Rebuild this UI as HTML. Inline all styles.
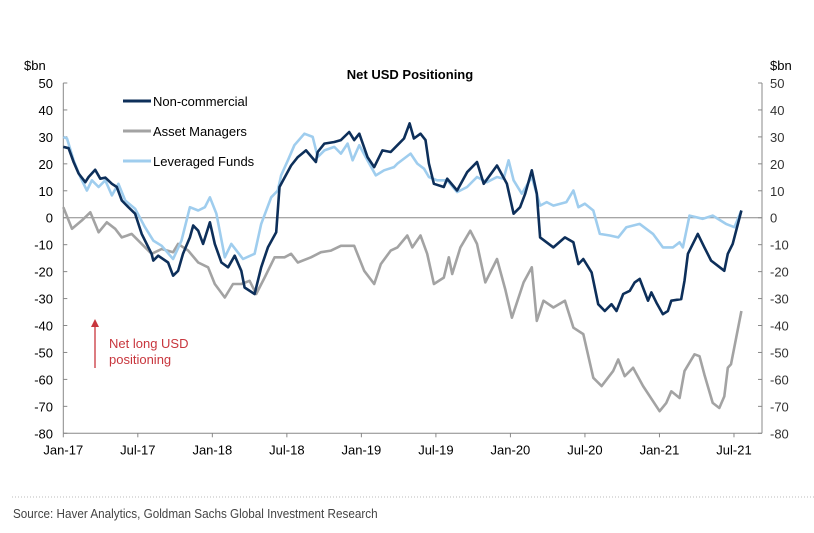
<!DOCTYPE html>
<html><head><meta charset="utf-8"><style>
body{margin:0;background:#fff;}
svg{display:block;font-family:"Liberation Sans",sans-serif;}
</style></head><body>
<svg id="chart" width="814" height="533">
<text x="410" y="79" text-anchor="middle" font-size="13" font-weight="bold">Net USD Positioning</text>
<text x="24" y="70" font-size="13">$bn</text>
<text x="770" y="70" font-size="13">$bn</text>
<g id="axes"></g>
<g id="series"></g>
<g>
<g><line x1="123" y1="101" x2="151" y2="101" stroke="#0d2f5a" stroke-width="3"/><text x="153" y="106" font-size="13">Non-commercial</text></g>
<g><line x1="123" y1="131" x2="151" y2="131" stroke="#a3a3a3" stroke-width="3"/><text x="153" y="136" font-size="13">Asset Managers</text></g>
<g><line x1="123" y1="161" x2="151" y2="161" stroke="#9fcdee" stroke-width="3"/><text x="153" y="166" font-size="13">Leveraged Funds</text></g>
</g>
<g>
<line x1="95" y1="368" x2="95" y2="326" stroke="#c8363d" stroke-width="1.3"/>
<polygon points="91,327 99,327 95,319" fill="#c8363d"/>
<text x="109" y="348" font-size="13" fill="#c8363d">Net long USD</text>
<text x="109" y="364" font-size="13" fill="#c8363d">positioning</text>
</g>
<line x1="12" y1="497" x2="814" y2="497" stroke="#bbb" stroke-dasharray="1,2"/>
<text x="13" y="518" font-size="13" fill="#444" transform="translate(13 0) scale(0.9 1) translate(-13 0)">Source: Haver Analytics, Goldman Sachs Global Investment Research</text>
</svg>
<script>
// months since Jan-2017
const yTicks=[50,40,30,20,10,0,-10,-20,-30,-40,-50,-60,-70,-80];
const xTickLabels=["Jan-17","Jul-17","Jan-18","Jul-18","Jan-19","Jul-19","Jan-20","Jul-20","Jan-21","Jul-21"];
const xTickMonths=[0,6,12,18,24,30,36,42,48,54];
const ncMonths=[0,0.43,0.83,1.23,1.77,2.04,2.57,2.98,3.38,3.91,4.31,4.71,5.24,5.78,6.31,7.11,7.25,7.64,8.44,8.84,9.24,9.64,10.19,10.46,10.86,11.26,11.8,12.2,12.73,13.27,13.8,14.33,14.6,15.4,15.93,16.47,17.14,17.41,18.34,18.88,19.54,20.34,20.48,21.02,21.82,22.35,23.02,23.42,23.83,24.49,25.03,25.69,26.36,26.9,27.43,27.88,28.23,28.76,29.16,29.44,29.84,30.64,30.91,31.71,32.51,33.31,33.85,34.92,35.72,36.26,36.78,37.19,37.72,38.12,38.39,39.46,40.39,41.07,41.47,41.87,42.54,43.07,43.6,44.14,44.54,45.08,45.61,46.01,46.41,47.08,47.35,47.75,48.28,48.68,48.95,49.75,50.02,50.29,51.09,51.62,52.16,52.69,53.22,53.5,53.9,54.6];
const ncValues=[26.3,25.8,20.7,16.4,13.2,15.1,17.8,14.5,14.9,12.6,11.4,6.4,3.9,1.5,-6,-13.4,-15.9,-14.1,-16.6,-21.5,-19.7,-13.4,-7.3,-2.9,-4.8,-9.7,-1.7,-9.7,-16.6,-18.4,-14.1,-19.7,-25.9,-28.3,-18.4,-11,-5.4,11.4,19.4,22.5,25,20.7,24.4,27.5,28.1,28.8,31.8,28.8,31.2,22.5,18.8,25,24.4,26.9,29.4,35,29.4,31.2,28.8,20.1,12.6,11.4,14.5,10.1,16.9,20.7,12.6,19.4,12.6,1.5,3.9,8.9,17.6,8.9,-7.3,-11,-7.3,-9.1,-17.2,-15.3,-20.3,-32.1,-34.6,-32.1,-34.6,-28.3,-27.1,-24,-22.7,-30.8,-27.7,-31.5,-35.8,-34.6,-30.8,-30.2,-23.4,-13.4,-6,-11,-15.9,-17.8,-19.7,-13.4,-9.7,2.7];
const amMonths=[0,0.7,1.5,2.17,2.84,3.5,4.18,4.71,5.51,6.31,7.11,7.92,8.84,9.24,10.06,10.86,11.66,12.2,13,13.66,14.33,15,15.53,16.21,17.01,17.81,18.34,18.88,19.94,20.75,21.55,22.35,23.42,24.23,25.03,25.56,26.36,26.9,27.7,28.1,28.76,29.3,29.84,30.64,31.04,31.31,31.97,32.77,33.31,33.98,34.92,35.58,36.12,37.06,37.72,38.12,38.66,39.46,40.39,41.07,41.87,42.67,43.34,44.27,44.68,45.2,45.88,46.68,48.01,48.55,48.95,49.62,50.02,50.82,51.22,51.62,52.29,52.82,53.22,53.5,53.76,54.6];
const amValues=[3.9,-4.1,-1,2,-5.4,-1.7,-4.1,-7.3,-6,-9.7,-13.4,-11.6,-12.8,-9.7,-12.2,-16.6,-18.4,-24.6,-29.6,-24.6,-24.6,-23.4,-28.3,-22.2,-14.7,-14.7,-13.4,-16.6,-14.7,-12.8,-12.2,-10.4,-10.4,-19.7,-24.6,-17.2,-12.2,-11,-6.6,-11,-6.6,-13.4,-24.6,-22.2,-14.7,-20.9,-11,-4.8,-9.7,-24,-15.3,-26.5,-37.1,-24,-18.4,-38.3,-30.8,-33.3,-30.8,-40.8,-43.2,-59.4,-62.5,-56.9,-52.6,-58.8,-55.7,-62.5,-71.8,-68.7,-64.4,-66.9,-56.9,-50.7,-51.4,-58.2,-68.7,-70.6,-66.3,-55.7,-54.4,-34.6];
const lfMonths=[0,0.3,0.83,1.37,1.9,2.3,2.84,3.38,3.91,4.44,4.98,5.78,6.58,7.25,7.92,8.84,9.52,10.19,10.86,11.4,11.8,12.33,13,13.53,14.47,15.4,15.93,16.74,17.27,17.54,18.08,18.61,19.41,20.08,20.48,21.02,21.82,22.35,22.89,23.29,23.83,24.35,25.16,25.83,26.63,26.9,27.96,28.5,29.04,29.44,30.1,30.91,31.71,32.51,33.31,34.11,34.92,35.45,35.85,36.26,36.92,37.72,38.39,38.92,39.46,40.51,41.07,41.47,42,42.67,43.2,44,44.68,45.34,46.41,47.48,48.28,49.09,49.62,49.89,50.42,51.49,52.29,53.36,54.03,54.6];
const lfValues=[30,29.4,21.3,15.1,10.1,13.9,11.4,13.9,8.3,12.6,6.4,3.3,-3.5,-8.5,-10.4,-15.3,-8.5,3.9,2.7,3.9,7.6,1.5,-14.7,-9.7,-15.3,-13.4,-2.3,7.6,10.1,15.7,21.3,26.9,31.2,30,22.5,25,26.3,23.8,27.5,21.3,26.9,22.5,15.7,17.6,18.8,20.1,23.8,20.1,18.2,15.1,13.9,13.9,9.5,11.4,15.1,13.2,15.1,14.5,21.3,13.9,8.9,15.1,4.5,5.8,4.5,5.8,10.1,3.9,5.2,2.7,-6,-6.6,-7.3,-3.5,-2.3,-6,-11,-11,-9.1,-11,0.8,-0.4,0.8,-2.3,-3.5,2.7];

const NS="http://www.w3.org/2000/svg";
const L=63.3,R=762,T=83,B=433.3,x0=63.3,pm=12.42;
function xs(m){return x0+m*pm;}
function ys(v){return B-(v+80)/130*(B-T);}
function mk(tag,attrs,parent){const e=document.createElementNS(NS,tag);for(const k in attrs)e.setAttribute(k,attrs[k]);parent.appendChild(e);return e;}
const ax=document.getElementById('axes');
let e=mk('line',{x1:L,y1:T,x2:L,y2:B,stroke:'#888'},ax);


e=mk('line',{x1:R,y1:T,x2:R,y2:B,stroke:'#888'},ax);


e=mk('line',{x1:L,y1:B,x2:R,y2:B,stroke:'#888'},ax);


e=mk('line',{x1:L,y1:ys(0),x2:R,y2:ys(0),stroke:'#888'},ax);


yTicks.forEach(v=>{
  const y=ys(v);
  mk('line',{x1:L,y1:y,x2:L+4,y2:y,stroke:'#888'},ax);
  mk('line',{x1:R-4,y1:y,x2:R,y2:y,stroke:'#888'},ax);
  let t=mk('text',{x:53,y:y+5,'text-anchor':'end','font-size':13},ax);t.textContent=v;
  
  
  t=mk('text',{x:770,y:y+5,'font-size':13,fill:'#333'},ax);t.textContent=v;
  
  
});
xTickMonths.forEach((m,i)=>{
  const x=xs(m);
  mk('line',{x1:x,y1:B,x2:x,y2:B+4,stroke:'#888'},ax);
  const t=mk('text',{x:x,y:B+21,'text-anchor':'middle','font-size':13},ax);t.textContent=xTickLabels[i];
  
  
});
const sg=document.getElementById('series');
function line(ms,vs,color,name){
  const d=ms.map((m,i)=>(i?'L':'M')+xs(m).toFixed(1)+','+ys(vs[i]).toFixed(1)).join('');
  const p=mk('path',{d:d,fill:'none',stroke:color,'stroke-width':2.6,'stroke-linejoin':'round'},sg);
  
  
}
line(amMonths,amValues,'#a3a3a3','asset-managers-line');
line(lfMonths,lfValues,'#9fcdee','leveraged-funds-line');
line(ncMonths,ncValues,'#0d2f5a','non-commercial-line');
</script>
</body></html>
